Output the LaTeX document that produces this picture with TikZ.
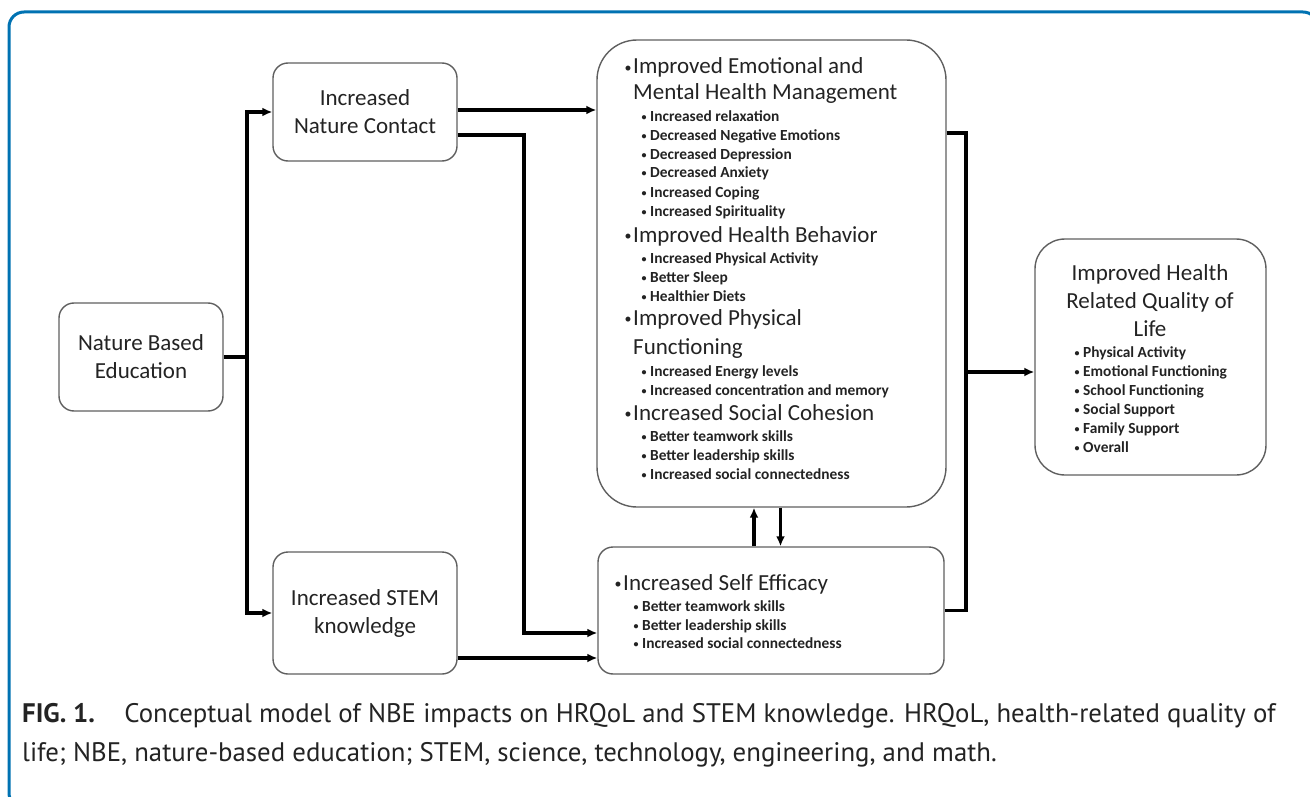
\documentclass[tikz,border=0pt]{standalone}
\usepackage{fontspec}
\setmainfont{Carlito}
\newfontfamily\capfont{PT Sans}
\usetikzlibrary{arrows.meta}
\definecolor{figblue}{RGB}{0,114,178}
\definecolor{boxgrey}{RGB}{95,95,95}
\definecolor{txt}{RGB}{35,35,35}
\tikzset{
	box/.style={draw=boxgrey, line width=1.4pt, rounded corners=15pt, text=txt, align=center, inner sep=0pt, font=\fontsize{23}{28}\selectfont},
	link/.style={line width=3.4pt},
	arr/.style={link, -{Latex[length=10pt,width=9pt]}},
	headitem/.style={anchor=base west, inner sep=0pt, text=txt, font=\fontsize{23}{28}\selectfont,
		execute at begin node={\llap{\raisebox{1.5pt}{\fontsize{14}{14}\selectfont•}\hspace{1.5pt}}}},
	headcont/.style={anchor=base west, inner sep=0pt, text=txt, font=\fontsize{23}{28}\selectfont},
	subitem/.style={anchor=base west, inner sep=0pt, text=txt, font=\fontsize{15.4}{19}\selectfont\bfseries,
		execute at begin node={\llap{\raisebox{1pt}{\fontsize{10}{10}\selectfont•}\hspace{3.5pt}}}},
	ttl/.style={anchor=base, inner sep=0pt, text=txt, font=\fontsize{23}{28}\selectfont},
	captxt/.style={anchor=base west, inner sep=0pt, text=txt, font=\capfont\fontsize{26.8}{39}\selectfont}
}

\begin{document}
\begin{tikzpicture}[x=1pt, y=-1pt]
	\useasboundingbox (0,0) rectangle (1310,797);
	\draw[figblue, line width=3pt, rounded corners=15pt] (9,12) rectangle (1318,808);

	\node[box, minimum width=164pt, minimum height=108pt] (nbe) at (141,357) {Nature Based\\Education};
	\node[box, minimum width=184pt, minimum height=98pt] (nc) at (365,112) {Increased\\Nature Contact};
	\node[box, minimum width=184pt, minimum height=122pt] (stem) at (365,613) {Increased STEM\\knowledge};
	\node[box, rounded corners=40pt, minimum width=349pt, minimum height=467pt] (emo) at (771.5,273.5) {};
	\node[box, minimum width=346pt, minimum height=127pt] (se) at (771,610.5) {};
	\node[box, rounded corners=30pt, minimum width=231pt, minimum height=236pt] (hrq) at (1150.5,357) {};

	\foreach \yb/\txt [count=\i] in {74/Improved Emotional and, 242/Improved Health Behavior, 325/Improved Physical, 420/Increased Social Cohesion}
		\node[headitem] (eh\i) at (633,\yb) {\txt};
	\node[headcont] (ec1) at (633,100) {Mental Health Management};
	\node[headcont] (ec2) at (633,354) {Functioning};
	\foreach \yb/\txt [count=\i] in {122/Increased relaxation, 141/Decreased Negative Emotions, 160/Decreased Depression,
		178/Decreased Anxiety, 197/Increased Coping, 216/Increased Spirituality, 263/Increased Physical Activity,
		282/Better Sleep, 301/Healthier Diets, 376/Increased Energy levels, 395/Increased concentration and memory,
		441/Better teamwork skills, 460/Better leadership skills, 479/Increased social connectedness}
		\node[subitem] (ei\i) at (650,\yb) {\txt};

	\node[headitem] (seh) at (623,590) {Increased Self Efficacy};
	\foreach \yb/\txt [count=\i] in {611/Better teamwork skills, 630/Better leadership skills, 648/Increased social connectedness}
		\node[subitem] (si\i) at (642,\yb) {\txt};

	\foreach \yb/\txt [count=\i] in {280/Improved Health, 308/Related Quality of, 336/Life}
		\node[ttl] (qt\i) at (1150,\yb) {\txt};
	\foreach \yb/\txt [count=\i] in {357/Physical Activity, 376/Emotional Functioning, 395/School Functioning,
		414/Social Support, 433/Family Support, 452/Overall}
		\node[subitem] (qi\i) at (1083,\yb) {\txt};

	\coordinate (split) at (247,357);
	\coordinate (ncdrop) at (524,633);
	\coordinate (jtop) at (966,133);
	\coordinate (jbot) at (966,610.5);
	\coordinate (jmid) at (966,372);
	\draw[link] (nbe.east) -- (split);
	\draw[arr] (split) |- (nc.west);
	\draw[arr] (split) |- (stem.west);
	\draw[arr] ([yshift=2pt]nc.east) -- ([yshift=2pt]nc.east -| emo.west);
	\draw[arr] ([yshift=-23pt]nc.east) -| (ncdrop) -- (ncdrop -| se.west);
	\draw[arr] ([yshift=-45pt]stem.east) -- ([yshift=-45pt]stem.east -| se.west);
	\draw[arr] ([xshift=-17pt]se.north) -- ([xshift=-17pt]se.north |- emo.south);
	\draw[arr] ([xshift=9pt]emo.south) -- ([xshift=9pt]emo.south |- se.north);
	\draw[link] (jtop -| emo.east) -- (jtop) -- (jbot) -- (se.east);
	\draw[arr] (jmid) -- (jmid -| hrq.west);

	\node[captxt] (cap1) at (22,722) {\textbf{FIG. 1.}\hspace{1.1em}Conceptual model of NBE impacts on HRQoL and STEM knowledge. HRQoL, health-related quality of};
	\node[captxt] (cap2) at (22,761) {life; NBE, nature-based education; STEM, science, technology, engineering, and math.};
\end{tikzpicture}
\end{document}
